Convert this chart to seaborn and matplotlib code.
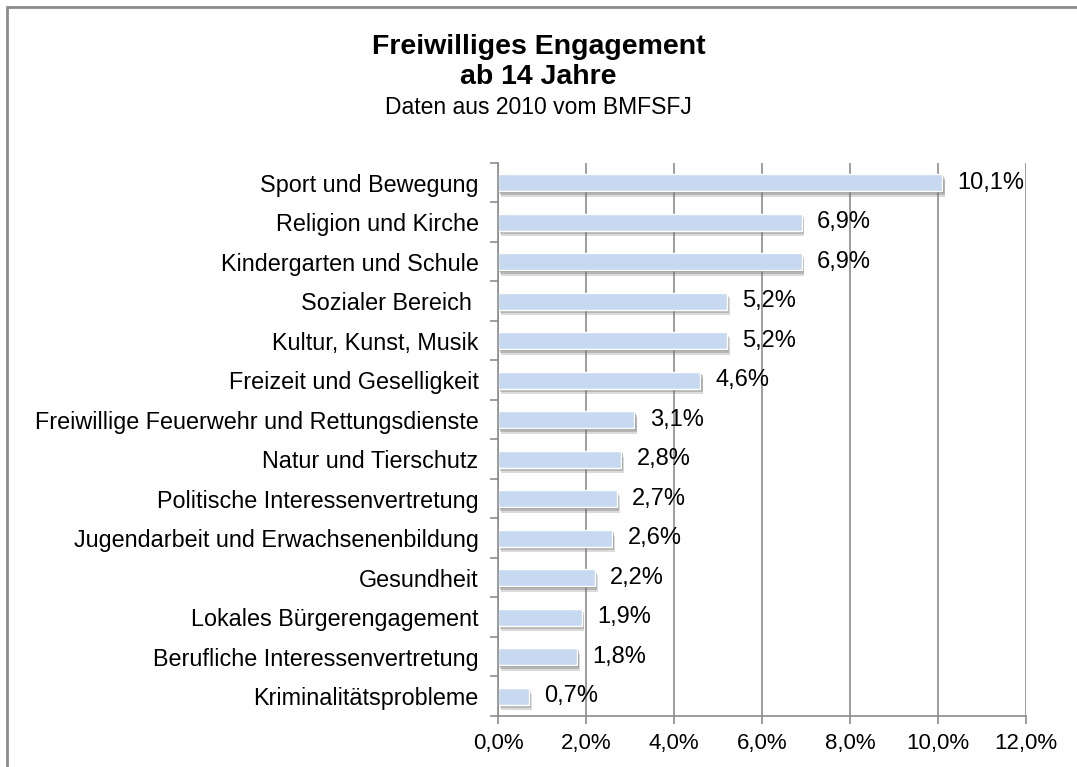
import pandas as pd
import seaborn as sns
import matplotlib.pyplot as plt
import matplotlib.patheffects as pe
from matplotlib.patches import Rectangle
from matplotlib.ticker import FuncFormatter

categories = [
    "Sport und Bewegung",
    "Religion und Kirche",
    "Kindergarten und Schule",
    "Sozialer Bereich ",
    "Kultur, Kunst, Musik",
    "Freizeit und Geselligkeit",
    "Freiwillige Feuerwehr und Rettungsdienste",
    "Natur und Tierschutz",
    "Politische Interessenvertretung",
    "Jugendarbeit und Erwachsenenbildung",
    "Gesundheit",
    "Lokales Bürgerengagement",
    "Berufliche Interessenvertretung",
    "Kriminalitätsprobleme",
]
values = [10.1, 6.9, 6.9, 5.2, 5.2, 4.6, 3.1, 2.8, 2.7, 2.6, 2.2, 1.9, 1.8, 0.7]
x_ticks = [0, 2, 4, 6, 8, 10, 12]

df = pd.DataFrame({"bereich": categories, "anteil": values})

sns.set_style("white")
plt.rcParams['font.family'] = ['Liberation Sans', 'DejaVu Sans']
plt.rcParams['text.color'] = 'black'

fig = plt.figure(figsize=(10.77, 7.67), dpi=100)
ax = fig.add_axes([0.4624, 0.0665, 0.4903, 0.7210])

ax.set_axisbelow(True)
ax.grid(axis='x', color='#8c8c8c', linewidth=1.2)

sns.barplot(data=df, x="anteil", y="bereich", orient="h", color="#c6d9f0",
            width=0.42, ax=ax, saturation=1)

# weicher Schatten unter den Balken
for bar in ax.patches:
    bar.set_path_effects([
        pe.SimplePatchShadow(offset=(2, -4), shadow_rgbFace='#707070', alpha=0.25),
        pe.SimplePatchShadow(offset=(1.5, -2.5), shadow_rgbFace='#707070', alpha=0.35),
        pe.SimplePatchShadow(offset=(1, -1.2), shadow_rgbFace='#707070', alpha=0.4),
        pe.Normal(),
    ])

labels = [f"{v:.1f}%".replace(".", ",") for v in values]
ax.bar_label(ax.containers[0], labels=labels, padding=11, fontsize=17, color='black')

ax.set_xlim(0, 12)
ax.set_xticks(x_ticks)
ax.xaxis.set_major_formatter(FuncFormatter(lambda v, p: f"{v:.1f}%".replace(".", ",")))
ax.set_ylim(len(categories) - 0.5, -0.5)
ax.set_yticks([i - 0.5 for i in range(len(categories) + 1)], minor=False)
ax.set_yticklabels([])
ax.set_yticks(range(len(categories)), minor=True)
ax.set_yticklabels(categories, minor=True)
ax.tick_params(axis='y', which='major', length=6, width=1.2, color='#8c8c8c', direction='out', left=True)
ax.tick_params(axis='y', which='minor', length=0, pad=14, labelsize=16.8, labelcolor='black')
ax.tick_params(axis='x', length=6, width=1.2, color='#8c8c8c', direction='out', bottom=True,
               labelsize=16, labelcolor='black', pad=6)
ax.set_xlabel("")
ax.set_ylabel("")

for s in ['top', 'right']:
    ax.spines[s].set_visible(False)
for s in ['left', 'bottom']:
    ax.spines[s].set_color('#8c8c8c')
    ax.spines[s].set_linewidth(1.2)

fig.text(0.5, 0.939, "Freiwilliges Engagement", ha='center', va='center', fontsize=20.5, fontweight='bold')
fig.text(0.5, 0.899, "ab 14 Jahre", ha='center', va='center', fontsize=20.5, fontweight='bold')
fig.text(0.5, 0.860, "Daten aus 2010 vom BMFSFJ", ha='center', va='center', fontsize=16.5)

fig.patches.append(Rectangle((7 / 1077, -0.05), 1.1, 1 - 7 / 767 + 0.05, transform=fig.transFigure,
                             fill=False, edgecolor='#8c8c8c', linewidth=2, figure=fig))

fig.savefig("out.png", dpi=100)
